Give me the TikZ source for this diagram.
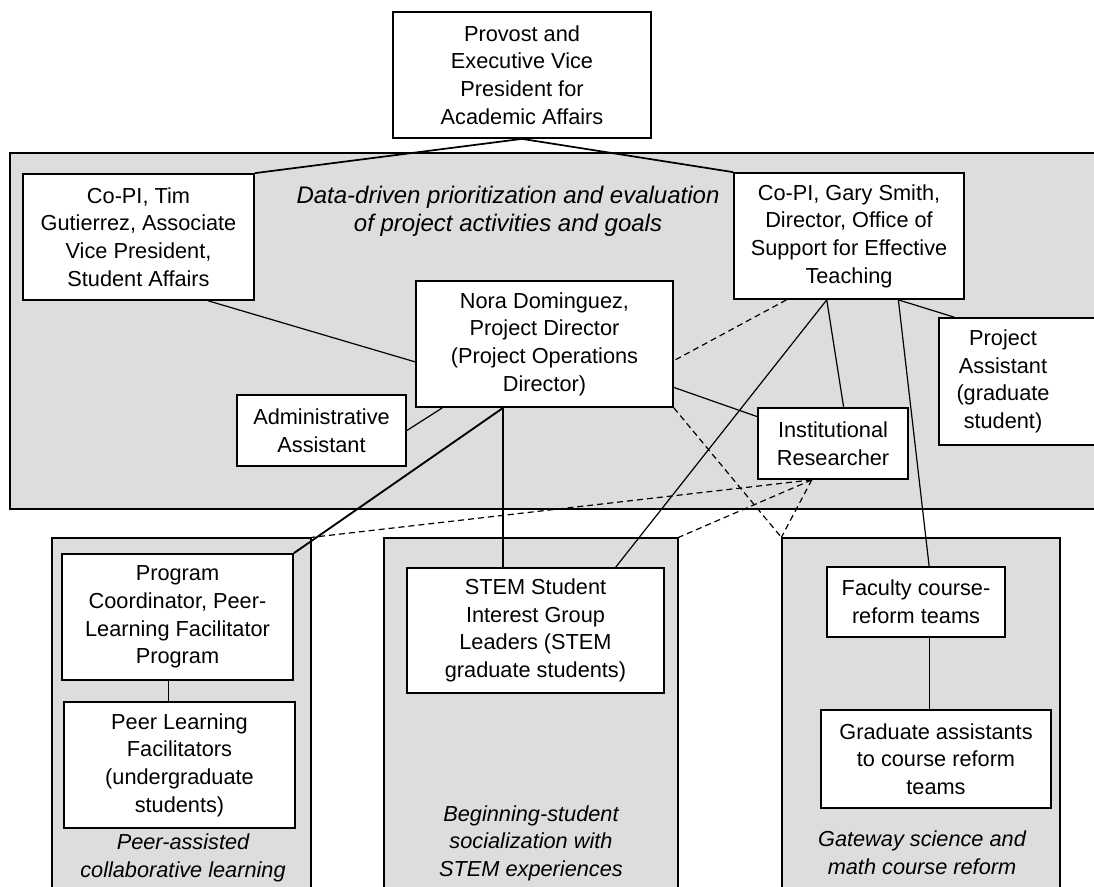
\documentclass[tikz,border=0pt]{standalone}
\usepackage{fontspec}
\setmainfont{Liberation Sans}
\usetikzlibrary{calc}
\definecolor{grp}{RGB}{221,221,221}
\tikzset{
 boxst/.style={draw=black, line width=1.3pt, fill=white, align=center, inner sep=0pt, font=\fontsize{16.3}{20.7}\selectfont},
 grpst/.style={draw=black, line width=1pt, fill=grp, inner sep=0pt},
 conn/.style={line width=0.9pt},
 pconn/.style={line width=1.3pt},
 thickconn/.style={line width=1.4pt},
 dconn/.style={line width=0.9pt, dash pattern=on 4.5pt off 3pt},
 grplabel/.style={align=center, inner sep=0pt, font=\fontsize{16.3}{20.7}\selectfont\itshape},
 plaintext/.style={align=center, inner sep=0pt, font=\fontsize{16.3}{20.7}\selectfont},
}
\newcommand\mybox[7]{\node[#1,minimum width={(#5-#3)*0.75pt},minimum height={(#6-#4)*0.75pt}] (#2) at ({(#3+#5)/2},{(#4+#6)/2}) {#7};}
\begin{document}
\begin{tikzpicture}[x=0.75pt,y=-0.75pt]
\useasboundingbox (0,0) rectangle (1094,886);
\clip (0,0) rectangle (1094,886);
% group areas
\mybox{grpst}{top}{10}{153}{1110}{509}{}
\mybox{grpst}{lgrp}{52}{538}{311}{900}{}
\mybox{grpst}{mgrp}{384}{538}{678}{900}{}
\mybox{grpst}{rgrp}{782}{538}{1060}{900}{}
% group labels
\node[grplabel, font=\fontsize{18}{21}\selectfont\itshape] (toplabel) at (508,211) {Data-driven prioritization and evaluation\\of project activities and goals};
\node[grplabel] (llabel) at (183,858) {Peer-assisted\\collaborative learning};
\node[grplabel] (mlabel) at (531,843) {Beginning-student\\socialization with\\STEM experiences};
\node[grplabel] (rlabel) at (922,853) {Gateway science and\\math course reform};
% boxes
\mybox{boxst}{provost}{393}{12}{651}{138}{Provost and\\Executive Vice\\President for\\Academic Affairs}
\mybox{boxst}{tim}{23}{174}{254}{300}{Co-PI, Tim\\Gutierrez, Associate\\Vice President,\\Student Affairs}
\mybox{boxst}{gary}{734}{173}{964}{299}{Co-PI, Gary Smith,\\Director, Office of\\Support for Effective\\Teaching}
\mybox{boxst}{nora}{416}{281}{673}{407}{Nora Dominguez,\\Project Director\\(Project Operations\\Director)}
\mybox{boxst}{admin}{237}{395}{406}{466}{Administrative\\Assistant}
\mybox{boxst}{ir}{758}{408}{908}{479}{Institutional\\Researcher}
\mybox{boxst}{pa}{939}{318}{1110}{445}{}
\node[plaintext] (patext) at (1003,381.5) {Project\\Assistant\\(graduate\\student)};
\mybox{boxst}{pc}{62}{554}{293}{680}{Program\\Coordinator, Peer-\\Learning Facilitator\\Program}
\mybox{boxst}{plf}{64}{702}{295}{828}{Peer Learning\\Facilitators\\(undergraduate\\students)}
\mybox{boxst}{stem}{407}{568}{664}{693}{STEM Student\\Interest Group\\Leaders (STEM\\graduate students)}
\mybox{boxst}{fac}{827}{567}{1005}{637}{Faculty course-\\reform teams}
\mybox{boxst}{ga}{821}{710}{1051}{808}{Graduate assistants\\to course reform\\teams}
% connectors
\draw[pconn] (provost.south) -- (tim.north east);
\draw[pconn] (provost.south) -- (gary.north west);
\draw[conn] ($(tim.south west)!0.8!(tim.south east)$) -- ($(nora.north west)!0.64!(nora.south west)$);
\draw[conn] (admin.east) -- ($(nora.south west)!0.105!(nora.south east)$);
\coordinate (nb) at ($(nora.south west)!0.34!(nora.south east)$);
\draw[thickconn] (nb) -- (pc.north east);
\draw[thickconn] (nb) -- (nb |- stem.north);
\draw[conn] ($(nora.north east)!0.84!(nora.south east)$) -- ($(ir.north west)!0.13!(ir.south west)$);
\coordinate (gb1) at ($(gary.south west)!0.23!(gary.south east)$);
\coordinate (gb2) at ($(gary.south west)!0.404!(gary.south east)$);
\coordinate (gb3) at ($(gary.south west)!0.713!(gary.south east)$);
\draw[dconn] (gb1) -- ($(nora.north east)!0.63!(nora.south east)$);
\draw[conn] (gb2) -- ($(stem.north west)!0.81!(stem.north east)$);
\draw[conn] (gb2) -- ($(ir.north west)!0.57!(ir.north east)$);
\draw[conn] (gb3) -- ($(fac.north west)!0.573!(fac.north east)$);
\draw[conn] (gb3) -- ([xshift=12pt]pa.north west);
\draw[dconn] (nora.south east) -- (rgrp.north west);
\coordinate (irb) at ($(ir.south west)!0.36!(ir.south east)$);
\draw[dconn] (irb) -- (lgrp.north east);
\draw[dconn] (irb) -- (mgrp.north east);
\draw[dconn] (irb) -- (rgrp.north west);
\coordinate (pcb) at ($(pc.south west)!0.46!(pc.south east)$);
\draw[conn] (pcb) -- (pcb |- plf.north);
\coordinate (fb) at ($(fac.south west)!0.573!(fac.south east)$);
\draw[conn] (fb) -- (fb |- ga.north);
\end{tikzpicture}
\end{document}
